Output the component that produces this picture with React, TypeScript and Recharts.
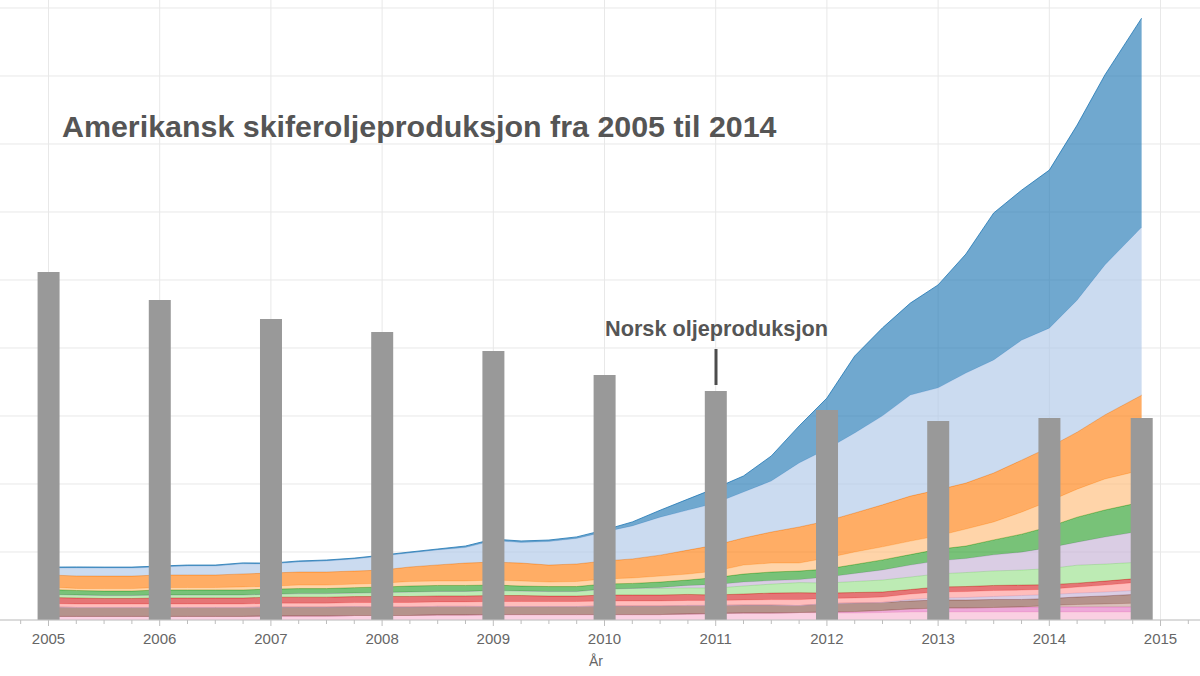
import React from 'react';
import { ComposedChart, Area, Bar, XAxis, YAxis, CartesianGrid } from 'recharts';

// time points (decimal years)
const times = [
  2005, 2005.25, 2005.5, 2005.75, 2006, 2006.25, 2006.5, 2006.75,
  2007, 2007.25, 2007.5, 2007.75, 2008, 2008.25, 2008.5, 2008.75,
  2009, 2009.25, 2009.5, 2009.75, 2010, 2010.25, 2010.5, 2010.75,
  2011, 2011.25, 2011.5, 2011.75, 2012, 2012.25, 2012.5, 2012.75,
  2013, 2013.25, 2013.5, 2013.75, 2014, 2014.25, 2014.5, 2014.83,
];

// stacked series, bottom to top (thousand barrels per day)
const pink = [26, 26, 26, 26, 26, 26, 26, 26, 29, 29, 29, 33, 33, 33, 37, 37, 40, 40, 40, 40, 40, 40, 40, 44, 48, 51, 51, 55, 51, 51, 55, 59, 59, 59, 59, 59, 59, 59, 59, 59];
const magenta = [0, 0, 0, 0, 0, 0, 0, 0, 0, 0, 0, 0, 0, 0, 0, 0, 0, 0, 0, 0, 0, 0, 0, 0, 0, 0, 0, 0, 7, 11, 15, 22, 29, 29, 33, 37, 37, 37, 37, 37];
const lightBrown = [0, 0, 0, 0, 0, 0, 0, 0, 0, 0, 0, 0, 0, 0, 0, 0, 0, 0, 0, 0, 0, 0, 0, 0, 0, 0, 0, 0, 0, 0, 0, 0, 0, 0, 0, 0, 11, 18, 22, 29];
const brown = [70, 66, 66, 66, 66, 66, 66, 66, 66, 66, 66, 66, 63, 63, 63, 63, 59, 59, 59, 59, 63, 63, 63, 63, 59, 59, 59, 51, 63, 63, 59, 59, 59, 59, 59, 55, 51, 55, 59, 66];
const lilacSmall = [0, 0, 0, 0, 0, 0, 0, 0, 0, 0, 0, 0, 0, 0, 0, 0, 0, 0, 0, 0, 0, 0, 0, 0, 0, 0, 0, 0, 0, 0, 0, 11, 15, 18, 22, 29, 29, 29, 29, 29];
const lightRed = [26, 26, 26, 26, 26, 26, 26, 26, 29, 29, 29, 29, 33, 33, 33, 33, 37, 37, 37, 37, 37, 37, 37, 37, 37, 37, 40, 44, 37, 37, 40, 40, 44, 44, 44, 40, 40, 44, 51, 59];
const red = [44, 44, 40, 40, 44, 44, 44, 44, 44, 44, 44, 44, 44, 44, 44, 44, 44, 44, 40, 40, 44, 44, 44, 44, 40, 44, 48, 51, 40, 40, 37, 33, 37, 37, 37, 37, 33, 29, 29, 29];
const lightGreen = [22, 22, 22, 22, 22, 22, 22, 22, 22, 26, 26, 26, 29, 33, 33, 33, 37, 33, 33, 33, 44, 48, 48, 48, 51, 59, 66, 74, 74, 81, 88, 92, 96, 103, 107, 110, 118, 132, 125, 118];
const lilac = [0, 0, 0, 0, 0, 0, 0, 0, 0, 0, 0, 0, 0, 0, 0, 0, 0, 0, 0, 0, 0, 0, 7, 18, 26, 29, 26, 22, 44, 59, 74, 88, 96, 103, 118, 132, 154, 169, 199, 228];
const green = [37, 33, 33, 33, 37, 37, 37, 37, 37, 37, 37, 40, 40, 44, 44, 44, 40, 37, 37, 37, 37, 37, 40, 40, 51, 59, 63, 63, 59, 66, 74, 77, 85, 92, 110, 132, 154, 184, 199, 213];
const lightOrange = [18, 15, 18, 18, 18, 18, 18, 22, 22, 26, 26, 26, 29, 33, 33, 33, 37, 37, 33, 37, 37, 40, 44, 44, 48, 66, 66, 59, 81, 92, 96, 99, 99, 125, 132, 162, 188, 206, 228, 235];
const orange = [88, 92, 92, 92, 92, 92, 92, 96, 96, 96, 96, 96, 96, 107, 118, 132, 132, 132, 125, 129, 132, 140, 154, 176, 191, 199, 228, 265, 272, 287, 309, 331, 338, 338, 360, 382, 397, 419, 471, 551];
const lightBlue = [51, 59, 59, 59, 59, 66, 66, 74, 66, 74, 81, 88, 103, 103, 110, 114, 158, 151, 173, 188, 213, 243, 279, 294, 309, 338, 375, 471, 529, 588, 654, 743, 750, 809, 831, 882, 875, 971, 1103, 1235];
const blue = [7, 7, 7, 7, 7, 7, 7, 7, 7, 7, 7, 7, 7, 7, 7, 11, 11, 11, 11, 11, 15, 29, 51, 81, 110, 118, 184, 272, 375, 566, 647, 676, 757, 875, 1081, 1103, 1162, 1287, 1397, 1537];

// Norwegian oil production (bars)
const barTimes = [2005, 2006, 2007, 2008, 2009, 2010, 2011, 2012, 2013, 2014, 2014.83];
const norway = [2559, 2353, 2213, 2118, 1978, 1801, 1684, 1544, 1463, 1485, 1485];

// axis ticks
const xTicks = [
  2004.75, 2005, 2005.25, 2005.5, 2005.75, 2006, 2006.25, 2006.5, 2006.75,
  2007, 2007.25, 2007.5, 2007.75, 2008, 2008.25, 2008.5, 2008.75,
  2009, 2009.25, 2009.5, 2009.75, 2010, 2010.25, 2010.5, 2010.75,
  2011, 2011.25, 2011.5, 2011.75, 2012, 2012.25, 2012.5, 2012.75,
  2013, 2013.25, 2013.5, 2013.75, 2014, 2014.25, 2014.5, 2014.75,
  2015, 2015.25,
];
const yearLines = [2005, 2006, 2007, 2008, 2009, 2010, 2011, 2012, 2013, 2014, 2015];
const yLines = [0, 500, 1000, 1500, 2000, 2500, 3000, 3500, 4000, 4500];

const title = 'Amerikansk skiferoljeproduksjon fra 2005 til 2014';
const annotation = 'Norsk oljeproduksjon';
const xLabel = 'År';

const series = [
  { key: 'pink', color: '#f7b6d2', values: pink },
  { key: 'magenta', color: '#e377c2', values: magenta },
  { key: 'lightBrown', color: '#c49c94', values: lightBrown },
  { key: 'brown', color: '#8c564b', values: brown },
  { key: 'lilacSmall', color: '#c5b0d5', values: lilacSmall },
  { key: 'lightRed', color: '#ff9896', values: lightRed },
  { key: 'red', color: '#d62728', values: red },
  { key: 'lightGreen', color: '#98df8a', values: lightGreen },
  { key: 'lilac', color: '#c5b0d5', values: lilac },
  { key: 'green', color: '#2ca02c', values: green },
  { key: 'lightOrange', color: '#ffbb78', values: lightOrange },
  { key: 'orange', color: '#ff7f0e', values: orange },
  { key: 'lightBlue', color: '#aec7e8', values: lightBlue },
  { key: 'blue', color: '#1f77b4', values: blue },
];

const data = times.map((t, i) => {
  const row: any = { t };
  series.forEach((s) => {
    row[s.key] = s.values[i];
  });
  const bi = barTimes.indexOf(t);
  row.norway = bi >= 0 ? norway[bi] : null;
  return row;
});

const FONT = '"Liberation Sans", Arial, Helvetica, sans-serif';

const XTick = (props: any) => {
  const { x, y, payload } = props;
  const v = payload.value;
  const isYear = Math.abs(v - Math.round(v)) < 1e-6;
  return (
    <g>
      <line x1={x} x2={x} y1={y} y2={y + (isYear ? 6 : 4)} stroke="#bdbdbd" strokeWidth={1} />
      {isYear ? (
        <text x={x} y={y + 24} textAnchor="middle" fontSize={15} fill="#666666" fontFamily={FONT}>
          {String(Math.round(v))}
        </text>
      ) : null}
    </g>
  );
};

export default function App() {
  return (
    <div style={{ position: 'absolute', left: 0, top: 0, width: 1200, height: 676, background: '#ffffff' }}>
      <ComposedChart
        width={1200}
        height={676}
        data={data}
        margin={{ top: 0, right: 0, bottom: 0, left: 0 }}
      >
        <CartesianGrid
          stroke="#e8e8e8"
          horizontalValues={yLines}
          verticalValues={yearLines}
        />
        <XAxis
          dataKey="t"
          type="number"
          domain={[2004.564, 2015.355]}
          allowDataOverflow
          ticks={xTicks}
          interval={0}
          tickSize={0}
          tickMargin={0}
          tickLine={false}
          tick={XTick}
          stroke="#c4c4c4"
          height={56}
        />
        <YAxis hide type="number" domain={[0, 4558.8]} allowDataOverflow ticks={yLines} />
        {series.map((s) => (
          <Area
            key={s.key}
            dataKey={s.key}
            stackId="shale"
            type="linear"
            fill={s.color}
            fillOpacity={0.64}
            stroke={s.color}
            strokeOpacity={0.8}
            strokeWidth={1}
            isAnimationActive={false}
            dot={false}
            activeDot={false}
          />
        ))}
        <Bar dataKey="norway" fill="#999999" barSize={22} isAnimationActive={false} />
      </ComposedChart>
      <svg
        width={1200}
        height={676}
        style={{ position: 'absolute', left: 0, top: 0, pointerEvents: 'none' }}
      >
        <text x={62} y={137} fontSize={30.4} fontWeight="bold" fill="#555555" fontFamily={FONT}>
          {title}
        </text>
        <text x={605} y={336} fontSize={21.7} fontWeight="bold" fill="#555555" fontFamily={FONT}>
          {annotation}
        </text>
        <line x1={716} x2={716} y1={349} y2={385} stroke="#4d4d4d" strokeWidth={3} />
        <text x={596} y={666} fontSize={14} textAnchor="middle" fill="#666666" fontFamily={FONT}>
          {xLabel}
        </text>
      </svg>
    </div>
  );
}
